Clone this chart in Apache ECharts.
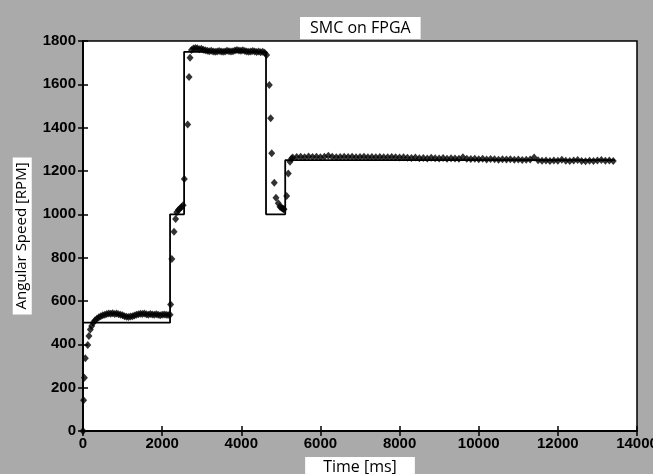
<!DOCTYPE html>
<html>
<head>
<meta charset="utf-8">
<script src="https://cdn.jsdelivr.net/npm/echarts@6/dist/echarts.min.js"></script>
<style>
  html, body { margin: 0; padding: 0; background: #aaaaaa; }
  #chart { width: 653px; height: 474px; }
</style>
</head>
<body>
<div id="chart"></div>
<script>
// Speed reference (step command), corner points [time ms, rpm]
const refTimes  = [0, 2200, 2200, 2555, 2555, 4625, 4625, 5110, 5110, 13440];
const refSpeeds = [500, 500, 1000, 1000, 1750, 1750, 1000, 1000, 1250, 1250];

// Measured speed samples [time ms, rpm]
const startUp = [
  [0, 0], [15, 142], [35, 246], [60, 336], [120, 397], [150, 438], [185, 468],
  [220, 485], [260, 500], [300, 510], [350, 518], [400, 525], [450, 530],
  [500, 534], [550, 537], [600, 540], [650, 542], [700, 541], [750, 543],
  [800, 540], [850, 542], [900, 539], [950, 537], [1000, 534], [1050, 530],
  [1100, 527], [1150, 526], [1200, 528], [1250, 530], [1300, 533], [1350, 536],
  [1400, 539], [1450, 541], [1500, 540], [1550, 542], [1600, 539], [1650, 537],
  [1700, 540], [1750, 538], [1800, 536], [1850, 539], [1900, 537], [1950, 534],
  [2000, 536], [2050, 538], [2100, 536], [2150, 535], [2200, 536]
];
const firstStep = [
  [2215, 584], [2245, 794], [2300, 920], [2340, 978], [2370, 1010], [2410, 1020],
  [2450, 1027], [2490, 1034], [2530, 1042], [2560, 1163], [2645, 1415],
  [2680, 1634], [2705, 1723]
];
const highPlateau = [
  [2740, 1758], [2790, 1765], [2840, 1768], [2890, 1766], [2940, 1762],
  [2990, 1764], [3040, 1760], [3090, 1757], [3140, 1755], [3190, 1753],
  [3240, 1755], [3290, 1752], [3340, 1750], [3390, 1752], [3440, 1754],
  [3490, 1752], [3540, 1750], [3590, 1752], [3640, 1755], [3690, 1753],
  [3740, 1751], [3790, 1753], [3840, 1756], [3890, 1758], [3940, 1756],
  [3990, 1755], [4040, 1757], [4090, 1754], [4140, 1752], [4190, 1750],
  [4240, 1752], [4290, 1754], [4340, 1751], [4390, 1749], [4440, 1751],
  [4490, 1748], [4540, 1750], [4590, 1746], [4640, 1735]
];
const dropAndRecover = [
  [4708, 1597], [4743, 1443], [4769, 1282], [4834, 1146], [4877, 1077],
  [4935, 1051], [4978, 1035], [5010, 1031], [5036, 1028], [5060, 1025],
  [5079, 1023], [5148, 1085], [5188, 1189], [5231, 1243], [5270, 1258]
];
const finalPlateau = [
  [5300, 1262], [5400, 1265], [5500, 1266], [5600, 1264], [5700, 1267],
  [5800, 1265], [5900, 1266], [6000, 1264], [6100, 1266], [6200, 1270],
  [6300, 1266], [6400, 1264], [6500, 1265], [6600, 1266], [6700, 1265],
  [6800, 1266], [6900, 1264], [7000, 1265], [7100, 1266], [7200, 1264],
  [7300, 1265], [7400, 1264], [7500, 1265], [7600, 1263], [7700, 1264],
  [7800, 1265], [7900, 1263], [8000, 1262], [8100, 1263], [8200, 1261],
  [8300, 1260], [8400, 1262], [8500, 1259], [8600, 1260], [8700, 1258],
  [8800, 1261], [8900, 1259], [9000, 1258], [9100, 1260], [9200, 1257],
  [9300, 1259], [9400, 1258], [9500, 1256], [9600, 1264], [9700, 1257],
  [9800, 1255], [9900, 1256], [10000, 1254], [10100, 1256], [10200, 1253],
  [10300, 1255], [10400, 1254], [10500, 1252], [10600, 1254], [10700, 1253],
  [10800, 1254], [10900, 1252], [11000, 1253], [11100, 1251], [11200, 1252],
  [11300, 1253], [11400, 1262], [11500, 1250], [11600, 1247], [11700, 1248],
  [11800, 1246], [11900, 1248], [12000, 1247], [12100, 1252], [12200, 1247],
  [12300, 1246], [12400, 1248], [12500, 1251], [12600, 1246], [12700, 1245],
  [12800, 1247], [12900, 1246], [13000, 1248], [13100, 1251], [13200, 1247],
  [13300, 1248], [13400, 1246]
];

// Axis ticks
const xTicks = [0, 2000, 4000, 6000, 8000, 10000, 12000, 14000];
const yTicks = [0, 200, 400, 600, 800, 1000, 1200, 1400, 1600, 1800];

const measured = [].concat(startUp, firstStep, highPlateau, dropAndRecover, finalPlateau);
const reference = refTimes.map((t, i) => [t, refSpeeds[i]]);

const tickLabelStyle = {
  color: '#000', fontFamily: 'Liberation Sans',
  fontWeight: 'bold', fontSize: 15,
  formatter: (v) => String(v)
};
const tickStyle = { show: true, inside: true, length: 5, lineStyle: { color: '#000', width: 1.5 } };
const xStep = xTicks[1] - xTicks[0];
const yStep = yTicks[1] - yTicks[0];

const chart = echarts.init(document.getElementById('chart'), null, { renderer: 'canvas' });
chart.setOption({
  backgroundColor: '#aaaaaa',
  animation: false,
  title: {
    text: 'SMC on FPGA',
    left: 300, top: 17,
    backgroundColor: '#ffffff',
    padding: [3, 10, 3, 10],
    textStyle: { fontFamily: 'Open Sans', fontSize: 16, fontWeight: 'normal', color: '#000' }
  },
  grid: {
    left: 83, top: 41, right: 16, bottom: 43,
    containLabel: false, outerBoundsMode: 'none',
    show: true, backgroundColor: '#ffffff', borderColor: '#000', borderWidth: 1.5
  },
  xAxis: [{
    type: 'value', min: xTicks[0], max: xTicks[xTicks.length - 1], interval: xStep,
    name: 'Time [ms]', nameLocation: 'middle', nameGap: 26,
    nameTextStyle: {
      fontFamily: 'Open Sans', fontSize: 16, color: '#000',
      backgroundColor: '#ffffff', padding: [2, 18, 2, 18]
    },
    axisLine: { show: true, lineStyle: { color: '#000', width: 1.5 } },
    axisTick: tickStyle,
    axisLabel: Object.assign({ margin: 5 }, tickLabelStyle),
    splitLine: { show: false }
  }, {
    type: 'value', position: 'top', min: xTicks[0], max: xTicks[xTicks.length - 1], interval: xStep,
    axisLine: { show: true, lineStyle: { color: '#000', width: 1.5 } },
    axisTick: tickStyle, axisLabel: { show: false }, splitLine: { show: false }
  }],
  yAxis: [{
    type: 'value', min: yTicks[0], max: yTicks[yTicks.length - 1], interval: yStep,
    name: 'Angular Speed [RPM]', nameLocation: 'middle', nameGap: 46, nameRotate: 90,
    nameTextStyle: {
      fontFamily: 'Open Sans', fontSize: 15, color: '#000',
      backgroundColor: '#ffffff', padding: [2, 5, 2, 5]
    },
    axisLine: { show: true, lineStyle: { color: '#000', width: 1.5 } },
    axisTick: tickStyle,
    axisLabel: Object.assign({ margin: 7 }, tickLabelStyle),
    splitLine: { show: false }
  }, {
    type: 'value', position: 'right', min: yTicks[0], max: yTicks[yTicks.length - 1], interval: yStep,
    axisLine: { show: true, lineStyle: { color: '#000', width: 1.5 } },
    axisTick: tickStyle, axisLabel: { show: false }, splitLine: { show: false }
  }],
  series: [{
    name: 'reference', type: 'line', data: reference,
    showSymbol: false, symbol: 'none',
    lineStyle: { color: '#000', width: 1.8 }, z: 2
  }, {
    name: 'measured', type: 'scatter', data: measured,
    symbol: 'diamond', symbolSize: [7, 8],
    itemStyle: { color: '#000' }, z: 3
  }]
});
</script>
</body>
</html>
